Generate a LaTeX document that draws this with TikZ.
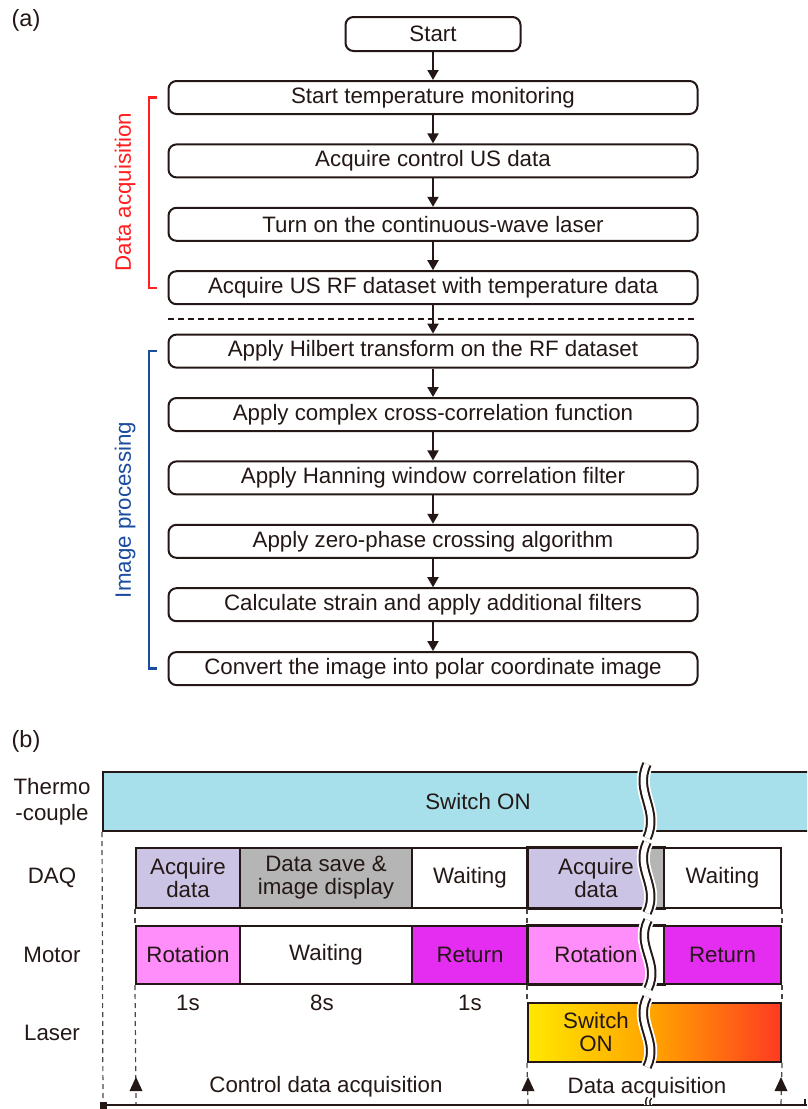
\documentclass[tikz,border=0pt]{standalone}
\usepackage{fontspec}
\setmainfont{Liberation Sans}
\usetikzlibrary{arrows.meta}
\definecolor{ln}{HTML}{231815}
\definecolor{thermo}{HTML}{A7E0EA}
\definecolor{lav}{HTML}{CCC4E4}
\definecolor{gry}{HTML}{B5B5B5}
\definecolor{pinkc}{HTML}{FF8EFA}
\definecolor{magc}{HTML}{E52DF2}
\definecolor{brred}{HTML}{FF1F1F}
\definecolor{brblue}{HTML}{1A4CA0}
\definecolor{lyel}{HTML}{FFE800}
\definecolor{lorg}{HTML}{FFA200}
\definecolor{lred}{HTML}{FF3A22}
\newcommand\brkmark[3]{%
  \foreach \w/\c in {13/white,9.5/ln,5.5/white}{%
    \draw[line width=\w pt, draw=\c] (#1,#2) .. controls ({#1-13},{#2+0.38*(#3-#2)}) and ({#1+13},{#2+0.62*(#3-#2)}) .. (#1,#3);}}
\begin{document}
\begin{tikzpicture}[x=1pt,y=-1pt,
  every node/.style={font=\fontsize{22.3}{23}\selectfont, text=ln, inner sep=0pt},
  flowbox/.style={draw=ln, line width=2pt, rounded corners=8pt, minimum width=529pt, minimum height=33pt, fill=white},
  flowarrow/.style={draw=ln, line width=2pt, -{Triangle[length=10pt,width=11pt]}},
  seg/.style={draw=ln, line width=2pt, minimum height=60pt, align=center},
  guide/.style={draw=ln!80, line width=1.2pt, dash pattern=on 5pt off 4pt},
  brk/.style={line width=2.3pt}]
\useasboundingbox (0,0) rectangle (807,1109);
% ---------------- (a)
\node[font=\fontsize{23.5}{25}\selectfont] (la) at (26,20) {(a)};
\node[flowbox, minimum width=175pt, minimum height=34pt] (s0) at (433,34) {Start};
\node[flowbox] (f1) at (433,97.5) {Start temperature monitoring};
\node[flowbox] (f2) at (433,160.9) {Acquire control US data};
\node[flowbox] (f3) at (433,224.3) {Turn on the continuous-wave laser};
\node[flowbox] (f4) at (433,287.7) {Acquire US RF dataset with temperature data};
\node[flowbox] (f5) at (433,351.1) {Apply Hilbert transform on the RF dataset};
\node[flowbox] (f6) at (433,414.5) {Apply complex cross-correlation function};
\node[flowbox] (f7) at (433,477.9) {Apply Hanning window correlation filter};
\node[flowbox] (f8) at (433,541.3) {Apply zero-phase crossing algorithm};
\node[flowbox] (f9) at (433,604.7) {Calculate strain and apply additional filters};
\node[flowbox] (f10) at (433,668.6) {Convert the image into polar coordinate image};
\draw[flowarrow] (s0) -- (f1);
\draw[flowarrow] (f1) -- (f2);
\draw[flowarrow] (f2) -- (f3);
\draw[flowarrow] (f3) -- (f4);
\draw[flowarrow] (f4) -- (f5);
\draw[flowarrow] (f5) -- (f6);
\draw[flowarrow] (f6) -- (f7);
\draw[flowarrow] (f7) -- (f8);
\draw[flowarrow] (f8) -- (f9);
\draw[flowarrow] (f9) -- (f10);
\coordinate (dl) at (168,319);
\coordinate (dr) at (697,319);
\draw[ln, line width=2pt, dash pattern=on 6pt off 4pt] (dl) -- (dr);
% brackets
\draw[brred, brk] (157,97.5) -- (149,97.5) -- (149,287.7) -- (157,287.7);
\node[rotate=90, text=brred] (lda) at (125,192) {Data acquisition};
\draw[brblue, brk] (157,351.1) -- (149,351.1) -- (149,668.6) -- (157,668.6);
\node[rotate=90, text=brblue] (lip) at (125,510) {Image processing};
% ---------------- (b)
\node[font=\fontsize{23.5}{25}\selectfont] (lb) at (26,741) {(b)};
\node[align=center, font=\fontsize{22.3}{26}\selectfont] (rtc) at (52,802) {Thermo\\-couple};
\node (rdaq) at (52,878) {DAQ};
\node (rmot) at (52,955) {Motor};
\node (rlas) at (52,1033) {Laser};
\begin{scope}
\clip (0,0) rectangle (807,1109);
\node[seg, fill=thermo, minimum width=750pt, minimum height=59pt] (tc) at (478,801.5) {Switch ON};
\end{scope}
% DAQ
\node[seg, fill=lav, minimum width=104pt] (d1) at (188,878) {Acquire\\data};
\node[seg, fill=gry, minimum width=172pt] (d2) at (326,878) {Data save \&\\image display};
\node[seg, fill=white, minimum width=116pt] (d3) at (470,878) {Waiting};
\node[seg, fill=lav, minimum width=136pt] (d4) at (596,878) {Acquire\\data};
\fill[gry] (648,849) rectangle (663,907);
\draw[ln, line width=2pt] (d4.north west) rectangle (d4.south east);
\node[seg, fill=white, minimum width=117pt] (d5) at (722.5,878) {Waiting};
% Motor
\node[seg, fill=pinkc, minimum width=104pt, minimum height=58pt] (m1) at (188,955) {Rotation};
\node[seg, fill=white, minimum width=172pt, minimum height=58pt] (m2) at (326,955) {Waiting};
\node[seg, fill=magc, minimum width=116pt, minimum height=58pt] (m3) at (470,955) {Return};
\node[seg, fill=pinkc, minimum width=136pt, minimum height=58pt] (m4) at (596,955) {Rotation};
\fill[white] (648,927) rectangle (663,983);
\draw[ln, line width=2pt] (m4.north west) rectangle (m4.south east);
\node[seg, fill=magc, minimum width=117pt, minimum height=58pt] (m5) at (722.5,955) {Return};
% times
\node (t1) at (188,1003) {1s};
\node (t2) at (322,1003) {8s};
\node (t3) at (470,1003) {1s};
% Laser
\node[seg, left color=lyel, right color=lred, middle color=lorg, minimum width=253pt, minimum height=59pt] (ls) at (654.5,1032.5) {};
\node[align=center] (lst) at (596,1032) {Switch\\ON};
% break marks
\brkmark{647}{764}{838}
\brkmark{647}{842}{913}
\brkmark{648}{920}{989}
\brkmark{647}{997}{1067}
% axis and guides
\coordinate (axL) at (103,1105);
\coordinate (ax136) at (136,1105);
\coordinate (ax528) at (528,1105);
\coordinate (ax781) at (781,1105);
\coordinate (axR) at (807,1105);
\draw[guide] (tc.south west) -- (axL);
\draw[guide] (d1.south west) -- (m1.north west);
\draw[guide] (m1.south west) -- (ax136);
\draw[guide] (d4.south west) -- (m4.north west);
\draw[guide] (m4.south west) -- (ls.north west);
\draw[guide] (ls.south west) -- (ax528);
\draw[guide] (d5.south east) -- (m5.north east);
\draw[guide] (m5.south east) -- (ls.north east);
\draw[guide] (ls.south east) -- (ax781);
\foreach \xx in {136,528,781}{\fill[ln] (\xx-6.5,1091) -- (\xx+6.5,1091) -- (\xx,1077) -- cycle;}
\node (cda) at (326,1087) {Control data acquisition};
\node (dacq) at (647,1088) {Data acquisition};
\draw[ln, line width=2pt] (axL) -- (axR);
\draw[ln, line width=1.6pt] (805,1099) -- (805,1105);
\fill[ln] (99.5,1101.5) rectangle (106.5,1108.5);
\begin{scope}
\clip (640,1097) rectangle (660,1104);
\foreach \w/\c in {8/white,5.5/ln,2.5/white}{%
  \draw[line width=\w pt, draw=\c] (650,1097) .. controls (647,1101) .. (650,1112);}
\end{scope}
\end{tikzpicture}
\end{document}
